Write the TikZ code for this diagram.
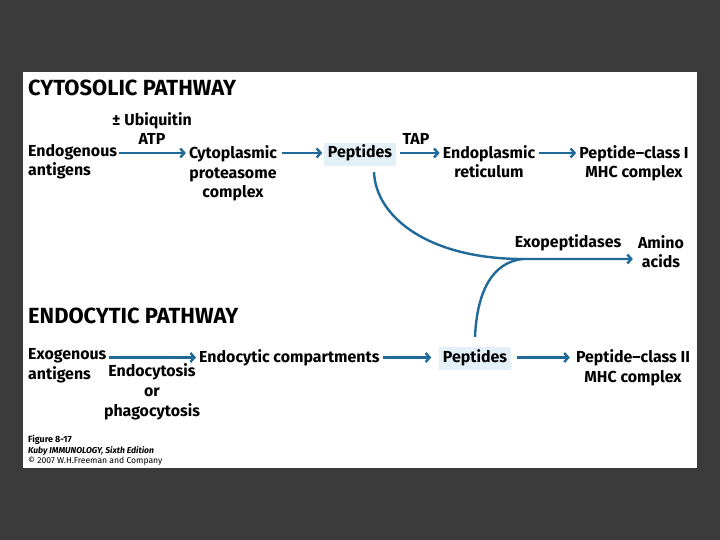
\documentclass[tikz,border=0pt]{standalone}
\usepackage{fontspec}
\setmainfont{Fira Sans}
\usetikzlibrary{arrows.meta}
\definecolor{bgdark}{HTML}{3B3B3B}
\definecolor{arrblue}{HTML}{1F6A98}
\definecolor{pepfill}{HTML}{E3F0F8}
\tikzset{
  lbl/.style={inner sep=0pt, font=\bfseries\fontsize{16}{20}\selectfont, align=center},
  ttl/.style={inner sep=0pt, font=\bfseries\fontsize{22}{24}\selectfont, anchor=base west},
  pepbox/.style={lbl, fill=pepfill, inner xsep=3.5bp, inner ysep=4bp, text height=11bp, text depth=4bp, anchor=base},
  arr/.style={draw=arrblue, line width=2.4bp, -{Straight Barb[length=4bp,width=9bp]}},
  curv/.style={draw=arrblue, line width=2.4bp},
  foot/.style={inner sep=0pt, anchor=base west}
}
\begin{document}
\begin{tikzpicture}[x=1bp,y=-1bp]
\fill[bgdark] (0,0) rectangle (720,540);
\fill[white] (23,72) rectangle (697,468);
\useasboundingbox (0,0) rectangle (720,540);

% cytosolic pathway (base anchor = last line's baseline)
\node[ttl] (t1) at (28,96) {CYTOSOLIC PATHWAY};
\node[lbl, anchor=base west, align=left] (endo) at (28,176) {Endogenous\\antigens};
\node[lbl, anchor=base] (ubq) at (152,145) {± Ubiquitin\\ATP};
\node[lbl, anchor=base] (cyto) at (233,198) {Cytoplasmic\\proteasome\\complex};
\node[pepbox] (pep1) at (360,158) {Peptides};
\node[lbl, anchor=base] (tap) at (416,145) {TAP};
\node[lbl, anchor=base] (er) at (489,178) {Endoplasmic\\reticulum};
\node[lbl, anchor=base] (mhc1) at (634,178) {Peptide–class I\\MHC complex};
\node[lbl, anchor=base] (exo) at (568,248) {Exopeptidases};
\node[lbl, anchor=base] (amino) at (661,268) {Amino\\acids};

% endocytic pathway
\node[ttl] (t2) at (28,323) {ENDOCYTIC PATHWAY};
\node[lbl, anchor=base west, align=left] (exog) at (28,379) {Exogenous\\antigens};
\node[lbl, anchor=base] (phago) at (152,416) {Endocytosis\\or\\phagocytosis};
\node[lbl, anchor=base west] (comp) at (199,362) {Endocytic compartments};
\node[pepbox] (pep2) at (475,362) {Peptides};
\node[lbl, anchor=base] (mhc2) at (633,382) {Peptide–class II\\MHC complex};

% footer
\node[foot, font=\bfseries\fontsize{9}{10}\selectfont] (fig) at (28,442) {Figure 8-17};
\node[foot, font=\bfseries\itshape\fontsize{8.6}{9}\selectfont] (kuby) at (28,453) {Kuby IMMUNOLOGY, Sixth Edition};
\node[foot, font=\fontsize{8.6}{9}\selectfont] (copy) at (28,463) {© 2007 W.H.Freeman and Company};

% arrow rows
\coordinate (r1) at ([yshift=1.5bp]pep1.center);
\coordinate (r2) at ([yshift=1bp]pep2.center);

% row 1 arrows
\draw[arr, shorten <=2bp, shorten >=3bp] (endo.east |- r1) -- (cyto.west |- r1);
\draw[arr, shorten <=5bp, shorten >=2bp] (cyto.east |- r1) -- (pep1.west |- r1);
\draw[arr, shorten <=4bp, shorten >=3bp] (pep1.east |- r1) -- (er.west |- r1);
\draw[arr, shorten <=4bp, shorten >=3bp] (er.east |- r1) -- (mhc1.west |- r1);

% row 2 arrows
\draw[arr, shorten <=2bp, shorten >=3bp] (exog.east |- r2) -- (comp.west |- r2);
\draw[arr, shorten <=3bp, shorten >=8bp] (comp.east |- r2) -- (pep2.west |- r2);
\draw[arr, shorten <=6bp, shorten >=6bp] (pep2.east |- r2) -- (mhc2.west |- r2);

% merging curves
\coordinate (jn) at (523,259);
\draw[arr, shorten >=5bp] ([xshift=14bp,yshift=-6bp]pep1.south) .. controls (376,218) and (430,259) .. (jn) -- (jn -| amino.west);
\draw[curv] ([yshift=10bp]pep2.north) .. controls (477,292) and (492,262) .. (jn);
\end{tikzpicture}
\end{document}
